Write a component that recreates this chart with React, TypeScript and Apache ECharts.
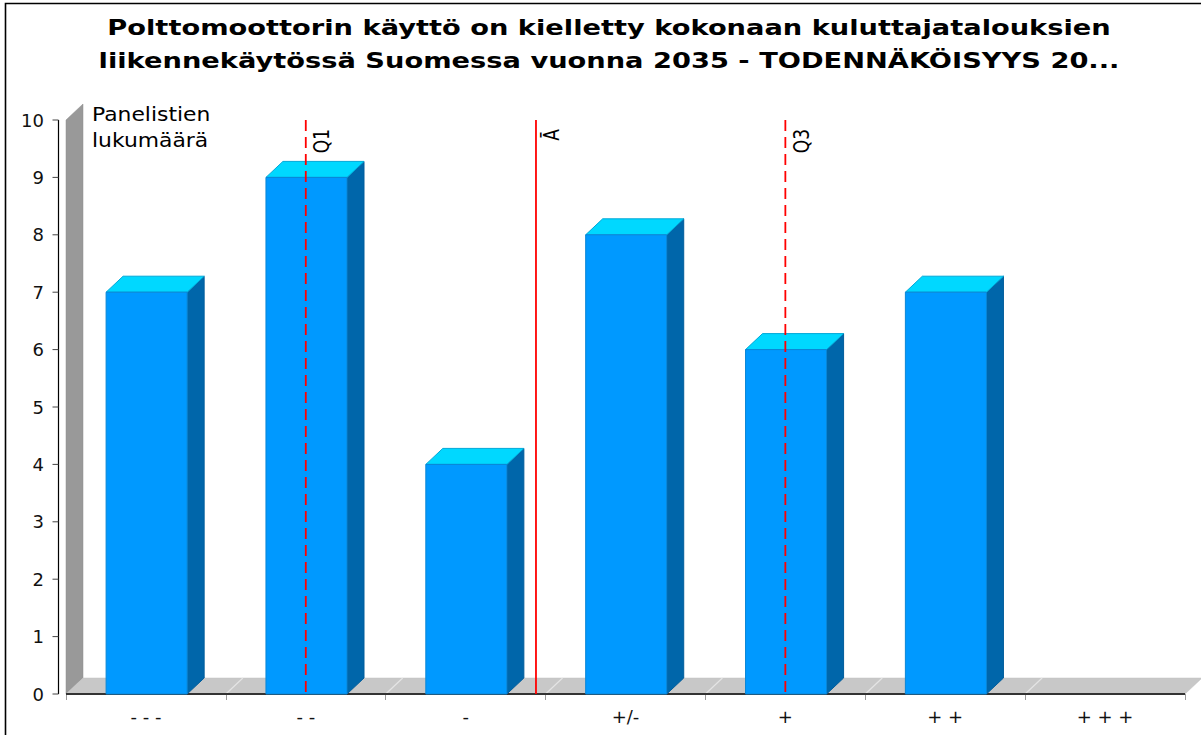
import React, { useEffect, useRef } from "react";
import * as echarts from "echarts";

const titleLines = [
  "Polttomoottorin käyttö on kielletty kokonaan kuluttajatalouksien",
  "liikennekäytössä Suomessa vuonna 2035 - TODENNÄKÖISYYS 20...",
];
const yAxisTitle = ["Panelistien", "lukumäärä"];
const categories = ["- - -", "- -", "-", "+/-", "+", "+ +", "+ + +"];
const scaleValues = [-3, -2, -1, 0, 1, 2, 3];
const panelistCounts = [7, 9, 4, 8, 6, 7, 0];
const yMin = 0;
const yMax = 10;
const yInterval = 1;
const statLabels = ["Q1", "Ā", "Q3"];
const statValues = [-2, -0.56, 1];
const statDashed = [true, false, true];

const FONT = '"DejaVu Sans", Verdana, sans-serif';
const STRETCH = 1.24;
const DEPTH_X = 17;
const DEPTH_Y = 16;
const AXIS_OFFSET = 8;

export default function App() {
  const ref = useRef<HTMLDivElement>(null);

  useEffect(() => {
    if (!ref.current) return;
    const chart = echarts.init(ref.current, null, { renderer: "svg" });
    const xMin = scaleValues[0] - 0.5;
    const xMax = scaleValues[scaleValues.length - 1] + 0.5;

    const option: any = {
      animation: false,
      backgroundColor: "#ffffff",
      grid: { left: 66, right: 16, top: 120, bottom: 41, containLabel: false },
      xAxis: [
        {
          type: "category",
          data: categories,
          boundaryGap: true,
          axisLine: { show: false, onZero: false },
          axisTick: {
            show: true,
            interval: 0,
            length: 6,
            lineStyle: { color: "#9a9a9a", width: 1 },
          },
          axisLabel: {
            interval: 0,
            margin: 13,
            fontFamily: FONT,
            fontSize: 18,
            color: "#111",
          },
          splitLine: { show: false },
        },
        {
          type: "value",
          min: xMin,
          max: xMax,
          show: false,
          axisLine: { onZero: false },
        },
      ],
      yAxis: {
        type: "value",
        min: yMin,
        max: yMax,
        interval: yInterval,
        offset: AXIS_OFFSET,
        axisLine: { show: false, onZero: false },
        axisTick: { show: false },
        axisLabel: { margin: 14, fontFamily: FONT, fontSize: 18, color: "#111" },
        splitLine: { show: false },
      },
      graphic: [
        {
          type: "rect",
          shape: { x: 5.5, y: 3.5, width: 1300, height: 900 },
          style: { fill: "none", stroke: "#000", lineWidth: 1.6 },
          silent: true,
        },
        {
          type: "text",
          x: 609,
          y: 27,
          scaleX: STRETCH,
          style: {
            text: titleLines[0],
            fontFamily: FONT,
            fontWeight: "bold",
            fontSize: 22,
            fill: "#000",
            align: "center",
            verticalAlign: "middle",
          },
        },
        {
          type: "text",
          x: 609,
          y: 60,
          scaleX: STRETCH,
          style: {
            text: titleLines[1],
            fontFamily: FONT,
            fontWeight: "bold",
            fontSize: 22,
            fill: "#000",
            align: "center",
            verticalAlign: "middle",
          },
        },
        {
          type: "text",
          x: 92,
          y: 115,
          scaleX: 1.15,
          z: 100,
          style: {
            text: yAxisTitle[0],
            fontFamily: FONT,
            fontSize: 19,
            fill: "#000",
            align: "left",
            verticalAlign: "middle",
          },
        },
        {
          type: "text",
          x: 92,
          y: 141,
          scaleX: 1.15,
          z: 100,
          style: {
            text: yAxisTitle[1],
            fontFamily: FONT,
            fontSize: 19,
            fill: "#000",
            align: "left",
            verticalAlign: "middle",
          },
        },
      ],
      series: [
        {
          type: "custom",
          name: "floor",
          xAxisIndex: 1,
          yAxisIndex: 0,
          clip: false,
          silent: true,
          z: 1,
          data: [[xMin, yMin]],
          renderItem: (params: any, api: any) => {
            const p0 = api.coord([xMin, yMin]);
            const p1 = api.coord([xMax, yMin]);
            const pTop = api.coord([xMin, yMax]);
            const children: any[] = [];
            const ax = Math.round(p0[0] - AXIS_OFFSET) + 0.5;
            children.push({
              type: "line",
              shape: { x1: ax, y1: pTop[1], x2: ax, y2: p0[1] },
              style: { stroke: "#000", lineWidth: 1.2 },
            });
            for (let t = yMin; t <= yMax; t += yInterval) {
              const ty = api.coord([xMin, t])[1];
              children.push({
                type: "line",
                shape: { x1: ax - 6, y1: ty, x2: ax, y2: ty },
                style: { stroke: "#444", lineWidth: 1 },
              });
            }
            children.push({
              type: "polygon",
              shape: {
                points: [
                  [p0[0], pTop[1]],
                  [p0[0] + DEPTH_X, pTop[1] - DEPTH_Y],
                  [p0[0] + DEPTH_X, p0[1] - DEPTH_Y],
                  [p0[0], p0[1]],
                ],
              },
              style: { fill: "#999999", stroke: "#8c8c8c", lineWidth: 0.5 },
            });
            children.push({
              type: "polygon",
              shape: {
                points: [
                  [p0[0], p0[1]],
                  [p0[0] + DEPTH_X, p0[1] - DEPTH_Y],
                  [p1[0] + DEPTH_X, p1[1] - DEPTH_Y],
                  [p1[0], p1[1]],
                ],
              },
              style: { fill: "#c8c8c8", stroke: "#c0c0c0", lineWidth: 0.5 },
            });
            for (let k = 1; k < scaleValues.length; k++) {
              const b = api.coord([scaleValues[k] - 0.5, yMin]);
              children.push({
                type: "line",
                shape: { x1: b[0], y1: b[1], x2: b[0] + DEPTH_X, y2: b[1] - DEPTH_Y },
                style: { stroke: "#e4e4e4", lineWidth: 1.2 },
              });
            }
            children.push({
              type: "line",
              shape: { x1: p0[0], y1: p0[1], x2: p1[0], y2: p1[1] },
              style: { stroke: "#333333", lineWidth: 2 },
            });
            return { type: "group", children };
          },
        },
        {
          type: "custom",
          name: "Panelistien lukumäärä",
          xAxisIndex: 0,
          yAxisIndex: 0,
          clip: false,
          z: 3,
          data: panelistCounts.map((v, i) => [i, v]),
          renderItem: (params: any, api: any) => {
            const idx = api.value(0);
            const v = api.value(1);
            if (!v) return { type: "group", children: [] };
            const top = api.coord([idx, v]);
            const bot = api.coord([idx, 0]);
            const w = api.size([1, 0])[0] * 0.507;
            const x0 = top[0] - w / 2 + 0.7;
            const x1 = x0 + w;
            const yT = top[1];
            const yB = bot[1];
            return {
              type: "group",
              children: [
                {
                  type: "polygon",
                  shape: {
                    points: [
                      [x1, yT],
                      [x1 + DEPTH_X, yT - DEPTH_Y],
                      [x1 + DEPTH_X, yB - DEPTH_Y],
                      [x1, yB],
                    ],
                  },
                  style: { fill: "#0066aa", stroke: "#005d9c", lineWidth: 1 },
                },
                {
                  type: "polygon",
                  shape: {
                    points: [
                      [x0, yT],
                      [x0 + DEPTH_X, yT - DEPTH_Y],
                      [x1 + DEPTH_X, yT - DEPTH_Y],
                      [x1, yT],
                    ],
                  },
                  style: { fill: "#00d8ff", stroke: "#00a8d8", lineWidth: 1 },
                },
                {
                  type: "rect",
                  shape: { x: x0, y: yT, width: w, height: yB - yT },
                  style: { fill: "#0099ff", stroke: "#0a86d6", lineWidth: 1 },
                },
              ],
            };
          },
        },
        {
          type: "custom",
          name: "stats",
          xAxisIndex: 1,
          yAxisIndex: 0,
          clip: false,
          silent: true,
          z: 5,
          data: statValues.map((v) => [v, yMax]),
          renderItem: (params: any, api: any) => {
            const i = params.dataIndex;
            const top = api.coord([api.value(0), yMax]);
            const bot = api.coord([api.value(0), yMin]);
            return {
              type: "group",
              children: [
                {
                  type: "line",
                  shape: { x1: top[0], y1: top[1], x2: bot[0], y2: bot[1] },
                  style: {
                    stroke: "#ff0000",
                    lineWidth: 1.8,
                    lineDash: statDashed[i] ? [11, 6] : null,
                  },
                },
                {
                  type: "text",
                  x: top[0] + 6,
                  y: top[1] + 9,
                  rotation: Math.PI / 2,
                  scaleY: 1.2,
                  style: {
                    text: statLabels[i],
                    fontFamily: FONT,
                    fontSize: 17,
                    fill: "#000",
                    align: "right",
                    verticalAlign: "top",
                  },
                },
              ],
            };
          },
        },
      ],
    };
    chart.setOption(option);
    return () => chart.dispose();
  }, []);

  return (
    <div
      ref={ref}
      style={{ position: "absolute", left: 0, top: 0, width: 1201, height: 735, background: "#fff" }}
    />
  );
}
